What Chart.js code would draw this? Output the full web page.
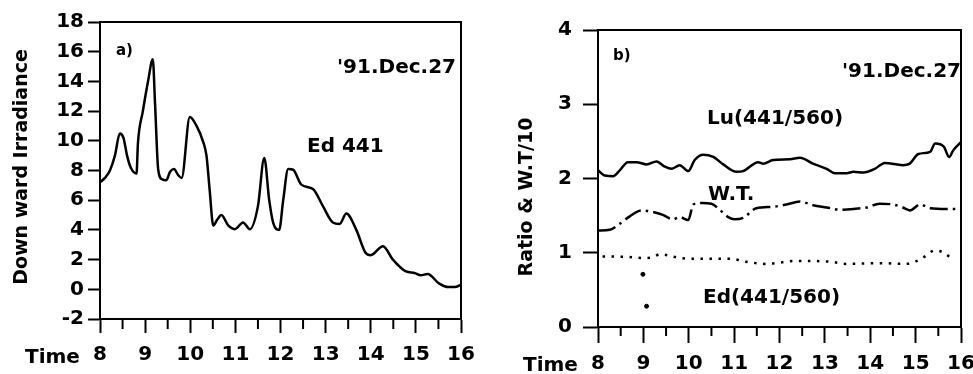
<!DOCTYPE html>
<html>
<head>
<meta charset="utf-8">
<script src="https://cdn.jsdelivr.net/npm/chart.js@4.4.1/dist/chart.umd.min.js"></script>
<style>
    body { margin: 0; background: #fff; width: 973px; height: 374px; overflow: hidden; position: relative; }
    .panel { position: absolute; top: 0; height: 374px; }
    #wrapA { left: 0; width: 486px; }
    #wrapB { left: 486px; width: 500px; }
</style>
</head>
<body>
<div class="panel" id="wrapA"><canvas id="chartA" width="486" height="374"></canvas></div>
<div class="panel" id="wrapB"><canvas id="chartB" width="500" height="374"></canvas></div>
<script>
// panel a) downward irradiance Ed 441
const timeA = [8.0, 8.11, 8.22, 8.33, 8.44, 8.52, 8.6, 8.68, 8.81, 8.84, 8.95, 9.07, 9.17, 9.22, 9.29, 9.38, 9.47, 9.55, 9.64, 9.73, 9.81, 9.99,
    10.14, 10.29, 10.36, 10.43, 10.51, 10.6, 10.69, 10.84, 10.99, 11.17, 11.32, 11.5, 11.64, 11.75, 11.84, 11.97, 12.06, 12.17, 12.28,
    12.46, 12.72, 12.94, 13.16, 13.31, 13.46, 13.68, 13.9, 14.0, 14.27, 14.49, 14.78, 14.97, 15.11, 15.26, 15.51, 15.72, 15.86, 16.0];
const edIrr = [7.2, 7.5, 8.0, 9.0, 10.5, 10.2, 9.0, 8.2, 7.8, 9.8, 12.0, 14.1, 15.5, 12.5, 8.05, 7.4, 7.35, 7.9, 8.1, 7.7, 7.5, 11.6,
    11.0, 9.9, 9.0, 6.7, 4.3, 4.7, 5.0, 4.3, 4.05, 4.5, 4.05, 5.6, 8.85, 6.0, 4.45, 4.0, 6.0, 8.1, 8.05,
    7.05, 6.75, 5.6, 4.5, 4.4, 5.1, 4.0, 2.4, 2.3, 2.9, 2.0, 1.2, 1.1, 0.95, 1.03, 0.4, 0.15, 0.15, 0.3];

// panel b) ratios and water temperature / 10
const timeLu = [8.0, 8.15, 8.33, 8.48, 8.66, 8.85, 9.07, 9.29, 9.47, 9.62, 9.8, 9.99, 10.13, 10.32, 10.54, 10.76, 11.05, 11.2, 11.53,
    11.64, 11.86, 12.23, 12.45, 12.74, 13.04, 13.22, 13.48, 13.63, 13.85, 14.1, 14.32, 14.72, 14.87, 15.06, 15.32, 15.43, 15.62,
    15.74, 15.83, 16.0];
const luRatio = [2.11, 2.04, 2.03, 2.11, 2.22, 2.22, 2.19, 2.23, 2.16, 2.13, 2.18, 2.10, 2.25, 2.32, 2.29, 2.19, 2.09, 2.10, 2.22,
    2.20, 2.25, 2.26, 2.28, 2.20, 2.13, 2.07, 2.07, 2.09, 2.08, 2.13, 2.21, 2.18, 2.20, 2.33, 2.36, 2.47, 2.43,
    2.29, 2.38, 2.49];

const timeWT = [8.0, 8.26, 8.48, 8.7, 8.96, 9.21, 9.43, 9.65, 9.8, 9.99, 10.1, 10.28, 10.5, 10.68, 10.87, 11.01, 11.2, 11.49, 11.86,
    12.15, 12.45, 12.74, 13.04, 13.33, 13.63, 13.92, 14.21, 14.5, 14.72, 14.87, 15.1, 15.32, 15.68, 16.0];
const wtScaled = [1.30, 1.31, 1.39, 1.49, 1.57, 1.55, 1.51, 1.45, 1.48, 1.44, 1.65, 1.67, 1.66, 1.58, 1.48, 1.45, 1.47, 1.60, 1.62,
    1.65, 1.69, 1.64, 1.61, 1.58, 1.59, 1.61, 1.66, 1.65, 1.61, 1.57, 1.65, 1.60, 1.59, 1.59];

const timeEdR = [8.1, 8.26, 8.77, 8.99, 9.21, 9.36, 9.8, 10.17, 10.9, 11.26, 11.71, 12.37, 13.11, 13.48, 14.21, 14.79, 15.1, 15.43,
    15.62, 15.81];
const edRatio = [0.95, 0.95, 0.94, 0.93, 0.94, 0.98, 0.93, 0.92, 0.92, 0.88, 0.85, 0.89, 0.88, 0.85, 0.86, 0.85, 0.91, 1.03,
    1.0, 0.91];

// stray Ed ratio points near 9 h
const spikeTime = [8.99, 9.07];
const spikeVal = [0.71, 0.28];

const minorHours = [8.5, 9.5, 10.5, 11.5, 12.5, 13.5, 14.5, 15.5];

const FONT = 'DejaVu Sans';
Chart.defaults.font.family = FONT;
Chart.defaults.font.size = 20;
Chart.defaults.font.weight = 'bold';
Chart.defaults.color = '#000';

function toXY(xs, ys) {
    return xs.map((x, i) => ({ x: x, y: ys[i] }));
}

// frame around the plot area
const framePlugin = {
    id: 'frame',
    afterDraw(chart) {
        const a = chart.chartArea;
        const ctx = chart.ctx;
        ctx.save();
        ctx.strokeStyle = '#000';
        ctx.lineWidth = 2;
        ctx.strokeRect(a.left, a.top, a.right - a.left, a.bottom - a.top);
        ctx.restore();
    }
};

// short ticks on the half hours
const minorTickPlugin = {
    id: 'minorTicks',
    afterDraw(chart, args, opts) {
        const xs = chart.scales.x;
        const ctx = chart.ctx;
        ctx.save();
        ctx.strokeStyle = '#000';
        ctx.lineWidth = 2;
        minorHours.forEach(h => {
            const px = xs.getPixelForValue(h);
            ctx.beginPath();
            ctx.moveTo(px, chart.chartArea.bottom);
            ctx.lineTo(px, chart.chartArea.bottom + opts.len);
            ctx.stroke();
        });
        ctx.restore();
    }
};

// labels written into the figure
const notesPlugin = {
    id: 'notes',
    afterDraw(chart, args, opts) {
        const ctx = chart.ctx;
        ctx.save();
        ctx.fillStyle = '#000';
        ctx.textBaseline = 'alphabetic';
        ctx.textAlign = 'left';
        opts.items.forEach(t => {
            ctx.font = 'bold ' + t.size + 'px "' + FONT + '"';
            ctx.fillText(t.text, t.x, t.y);
        });
        const yt = opts.yTitle;
        ctx.font = 'bold ' + yt.size + 'px "' + FONT + '"';
        ctx.textAlign = 'center';
        ctx.textBaseline = 'middle';
        ctx.translate(yt.x, yt.y);
        ctx.rotate(-Math.PI / 2);
        ctx.fillText(yt.text, 0, 0);
        ctx.restore();
    }
};

function axisX(tickLen, pad, height) {
    return {
        type: 'linear', min: 8, max: 16,
        ticks: { stepSize: 1, padding: pad, maxRotation: 0, autoSkip: false },
        grid: { drawOnChartArea: false, drawTicks: true, tickLength: tickLen, tickWidth: 2, tickColor: '#000' },
        border: { display: true, color: '#000', width: 2 },
        afterFit: s => { s.height = height; }
    };
}

function axisY(min, max, step, tickLen, pad, width) {
    return {
        min: min, max: max,
        ticks: { stepSize: step, padding: pad },
        grid: { drawOnChartArea: false, drawTicks: true, tickLength: tickLen, tickWidth: 2, tickColor: '#000' },
        border: { display: true, color: '#000', width: 2 },
        afterFit: s => { s.width = width; }
    };
}

const lineBase = { borderColor: '#000', pointRadius: 0, fill: false, cubicInterpolationMode: 'monotone' };

new Chart(document.getElementById('chartA'), {
    type: 'line',
    data: {
        datasets: [
            Object.assign({ label: 'Ed 441', data: toXY(timeA, edIrr), borderWidth: 2.5 }, lineBase)
        ]
    },
    options: {
        responsive: false,
        animation: false,
        layout: { padding: { top: 22, right: 25, left: 0, bottom: 0 } },
        scales: {
            x: axisX(14, 10, 55),
            y: axisY(-2, 18, 2, 12, 4, 100)
        },
        plugins: {
            legend: { display: false },
            tooltip: { enabled: false },
            minorTicks: { len: 10 },
            notes: {
                items: [
                    { text: 'a)', x: 116, y: 55, size: 15 },
                    { text: "'91.Dec.27", x: 337, y: 73, size: 20 },
                    { text: 'Ed 441', x: 307, y: 152, size: 20 },
                    { text: 'Time', x: 25, y: 363, size: 20 }
                ],
                yTitle: { text: 'Down ward Irradiance', x: 22, y: 167, size: 19 }
            }
        }
    },
    plugins: [framePlugin, minorTickPlugin, notesPlugin]
});

new Chart(document.getElementById('chartB'), {
    type: 'line',
    data: {
        datasets: [
            Object.assign({ label: 'Lu(441/560)', data: toXY(timeLu, luRatio), borderWidth: 2.5 }, lineBase),
            Object.assign({ label: 'W.T.', data: toXY(timeWT, wtScaled), borderWidth: 2.5, borderDash: [18, 5, 2.5, 5] }, lineBase),
            Object.assign({ label: 'Ed(441/560)', data: toXY(timeEdR, edRatio), borderWidth: 2.5, borderDash: [2.5, 6.5] }, lineBase),
            {
                label: 'Ed spike', type: 'scatter', data: toXY(spikeTime, spikeVal),
                pointRadius: 2, pointBackgroundColor: '#000', pointBorderColor: '#000', showLine: false
            }
        ]
    },
    options: {
        responsive: false,
        animation: false,
        layout: { padding: { top: 30, right: 25, left: 0, bottom: 0 } },
        scales: {
            x: axisX(16, 9, 47),
            y: axisY(0, 4, 1, 15, 11, 112)
        },
        plugins: {
            legend: { display: false },
            tooltip: { enabled: false },
            minorTicks: { len: 9 },
            notes: {
                items: [
                    { text: 'b)', x: 127, y: 60, size: 15 },
                    { text: "'91.Dec.27", x: 356, y: 77, size: 20 },
                    { text: 'Lu(441/560)', x: 221, y: 124, size: 20 },
                    { text: 'W.T.', x: 222, y: 200, size: 20 },
                    { text: 'Ed(441/560)', x: 217, y: 303, size: 20 },
                    { text: 'Time', x: 37, y: 371, size: 20 }
                ],
                yTitle: { text: 'Ratio & W.T/10', x: 41, y: 197, size: 19 }
            }
        }
    },
    plugins: [framePlugin, minorTickPlugin, notesPlugin]
});
</script>
</body>
</html>
